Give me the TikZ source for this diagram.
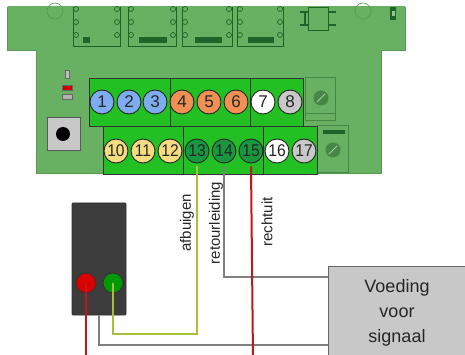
\documentclass[tikz,border=0pt]{standalone}
\usepackage{fontspec}
\setmainfont{Liberation Sans}
\definecolor{pcb}{RGB}{104,176,98}
\definecolor{pcbedge}{RGB}{90,150,85}
\definecolor{pcbdark}{RGB}{30,100,40}
\definecolor{pcbmid}{RGB}{70,135,70}
\definecolor{tgreen}{RGB}{34,192,34}
\definecolor{tblue}{RGB}{126,172,240}
\definecolor{torange}{RGB}{240,144,84}
\definecolor{tgray}{RGB}{200,200,200}
\definecolor{tyellow}{RGB}{246,220,128}
\definecolor{tdkgreen}{RGB}{24,150,64}
\definecolor{wyellow}{RGB}{166,192,58}
\definecolor{wgray}{RGB}{128,128,128}
\definecolor{wred}{RGB}{196,20,28}
\definecolor{housingc}{RGB}{60,60,60}
\definecolor{boxgray}{RGB}{200,200,200}
\tikzset{
  term/.style={circle,draw=black!85,line width=0.9pt,minimum size=24pt,inner sep=0pt,
    font=\fontsize{17}{17}\selectfont,text=black!85},
  blk/.style={draw=black!80,line width=0.9pt,fill=tgreen},
  trace/.style={draw=pcbdark,line width=0.7pt},
  pin/.style={circle,draw=pcbdark,line width=0.7pt,minimum size=5pt,inner sep=0pt},
  potline/.style={draw=pcbmid,line width=0.6pt},
  wire/.style={line width=2pt},
  lbl/.style={rotate=90,font=\fontsize{15}{15}\selectfont,text=black!85,inner sep=0pt},
}
\newcommand{\twod}[1]{\scalebox{0.92}[1]{#1}}
\begin{document}
\begin{tikzpicture}[x=1pt,y=-1pt]
\useasboundingbox (0,0) rectangle (465,355);
\clip (0,0) rectangle (465,355);
\fill[white] (0,0) rectangle (465,355);
% PCB
\path[fill=pcb,draw=pcbedge,line width=0.6pt] (7,7) -- (405,7) -- (405,50) -- (381,50) -- (381,173) -- (36,173) -- (36,50) -- (7,50) -- cycle;
\fill[pcb] (7.5,6.5) rectangle (404.5,8);
% mounting holes
\draw[pcbedge,line width=0.6pt] (55,11) circle (8);
\draw[pcbedge,line width=0.6pt] (363,11) circle (8);
% ICs
\foreach \L/\R/\bl/\br in {76/117/83/90,131/173/139/167,185/229/195/222,240/280/248/274}{
  \draw[trace] (\L-3,7) -- (\L-3,46) -- (\R+3,46) -- (\R+3,7);
  \foreach \yy in {9,22,35}{
    \node[pin,fill=pcb] at (\L,\yy) {};
    \node[pin,fill=pcb] at (\R,\yy) {};
  }
  \fill[pcbdark] (\bl,37) rectangle (\br,43);
}
% small SO chip
\draw[pcbdark,line width=0.6pt] (308,7) rectangle (328,30);
\draw[pcbdark,line width=2.5pt] (300,12) -- (308,12) (300,25) -- (308,25) (328,12) -- (336,12) (328,25) -- (336,25);
\draw[pcbdark,line width=1.8pt] (305,11) -- (305,26);
\fill[pcbdark] (390,7) rectangle (396,20);
\fill[pcb!70!white] (391.5,11) rectangle (394.5,16);
% LEDs
\draw[black!60,fill=gray!50,line width=0.5pt] (65,70) rectangle (69,78);
\draw[black!60,fill=red!80!black,line width=0.5pt] (62,85) rectangle (72,90);
\draw[black!60,fill=gray!60,line width=0.5pt] (62,94) rectangle (72,99);
% button
\draw[gray!70!black,fill=boxgray,line width=0.7pt] (47,117) rectangle (80,150);
\fill[black] (63,134) circle (7);
% potentiometers
\draw[potline] (305,77) rectangle (335,120) (305,113) -- (335,113);
\fill[pcbmid] (321,98) circle (7.5);
\draw[pcb!60!white,line width=0.8pt] (317,102) -- (325,94);
\draw[potline] (317,125) rectangle (348,172);
\fill[pcbdark] (323,130) rectangle (345,134);
\fill[pcbmid] (333,150) circle (7.5);
\draw[pcb!60!white,line width=0.8pt] (329,154) -- (337,146);
% terminal blocks
\draw[blk] (89,78) rectangle (170,126);
\draw[blk] (170,78) rectangle (250,126);
\draw[blk] (250,78) rectangle (303,126);
\draw[blk] (103,126) rectangle (183,174);
\draw[blk] (183,126) rectangle (263,174);
\draw[blk] (263,126) rectangle (317,174);
% terminals
\node[term,fill=tblue] (c1) at (102,102) {1};
\node[term,fill=tblue] (c2) at (129,102) {2};
\node[term,fill=tblue] (c3) at (155,102) {3};
\node[term,fill=torange] (c4) at (182,102) {4};
\node[term,fill=torange] (c5) at (209,102) {5};
\node[term,fill=torange] (c6) at (236,102) {6};
\node[term,fill=white] (c7) at (263,102) {7};
\node[term,fill=tgray] (c8) at (290,102) {8};
\node[term,fill=tyellow] (c10) at (116,151) {\twod{10}};
\node[term,fill=tyellow] (c11) at (143,151) {\twod{11}};
\node[term,fill=tyellow] (c12) at (170,151) {\twod{12}};
\node[term,fill=tdkgreen] (c13) at (197,151) {\twod{13}};
\node[term,fill=tdkgreen] (c14) at (224,151) {\twod{14}};
\node[term,fill=tdkgreen] (c15) at (251,151) {\twod{15}};
\node[term,fill=white] (c16) at (277,151) {\twod{16}};
\node[term,fill=tgray] (c17) at (304,151) {\twod{17}};
% signal housing
\node[draw=black!80,fill=housingc,line width=0.8pt,minimum width=54pt,minimum height=112pt,inner sep=0pt,rounded corners=1pt] (housing) at (99,259) {};
\node[circle,draw=black!80,fill=red!85!black,line width=0.8pt,minimum size=20pt,inner sep=0pt] (redlight) at (86,283) {};
\node[circle,draw=black!80,fill=green!60!black,line width=0.8pt,minimum size=20pt,inner sep=0pt] (greenlight) at (113,283) {};
% power box
\node[draw=black!60,fill=boxgray,line width=1pt,minimum width=138pt,minimum height=94pt,align=center,
  font=\fontsize{18}{25}\selectfont,text=black!85] (box) at (397,313) {Voeding\\voor\\signaal};
\coordinate (g1) at (328,277);
\coordinate (g2) at (328,345);
\coordinate (yb) at (0,334);
\coordinate (redend) at (253,358);
\coordinate (redlend) at (86,358);
% wires
\draw[wire,wgray] ([yshift=-3pt]c14.south) |- (g1);
\draw[wire,wgray] (housing.south) |- (g2);
\draw[wire,wyellow] ([yshift=-3pt]c13.south) |- (yb -| greenlight) -- (greenlight.center);
\draw[wire,wred] ([yshift=-3pt]c15.south) -- (redend);
\draw[wire,wred] (redlight.center) -- (redlend);
% labels
\node[lbl] (l1) at (187,223) {afbuigen};
\node[lbl] (l2) at (216,223) {retourleiding};
\node[lbl] (l3) at (267,222) {rechtuit};
\end{tikzpicture}
\end{document}
